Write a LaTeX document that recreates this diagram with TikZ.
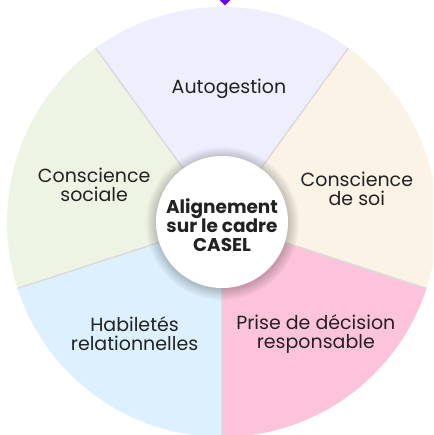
\documentclass[tikz,border=0pt]{standalone}
\usepackage{fontspec}
\setmainfont{Poppins}
\usetikzlibrary{shapes.geometric,fadings}

\definecolor{autog}{HTML}{EEEEFD}
\definecolor{soi}{HTML}{FBF3E6}
\definecolor{decision}{HTML}{FDC3DA}
\definecolor{relation}{HTML}{DCF1FD}
\definecolor{sociale}{HTML}{EEF4E4}
\definecolor{ink}{HTML}{222222}
\definecolor{mark}{HTML}{6B00F5}

\tikzset{
  lbl/.style={align=center, text=ink, font=\fontsize{19}{19}\selectfont},
  hubtext/.style={align=center, inner sep=0pt, text=ink,
    font=\bfseries\fontsize{18.5}{18.5}\selectfont}
}

\begin{document}
\begin{tikzpicture}[x=1pt,y=1pt]
   \useasboundingbox (-222,-213) rectangle (211,222);
   \clip (-222,-213) rectangle (211,222);

   % the five sectors of the wheel
   \fill[autog] (0,0) -- (54:215) arc[start angle=54, end angle=126, radius=215] -- cycle;
   \fill[sociale] (0,0) -- (126:215) arc[start angle=126, end angle=198, radius=215] -- cycle;
   \fill[relation] (0,0) -- (198:215) arc[start angle=198, end angle=270, radius=215] -- cycle;
   \fill[decision] (0,0) -- (270:215) arc[start angle=270, end angle=342, radius=215] -- cycle;
   \fill[soi] (0,0) -- (-18:215) arc[start angle=-18, end angle=54, radius=215] -- cycle;

   % separators
   \foreach \a in {54,126,198,270,342}
     \draw[black!14, line width=1.5pt] (0,0) -- (\a:215);

   % hub disc with a soft shadow
   \fill[black, opacity=.22, path fading=circle with fuzzy edge 15 percent] (0,-1) circle (77);
   \fill[white] (0,0) circle (66);

   \node[hubtext] (hub) at (0,-3) {Alignement\\sur le cadre\\CASEL};

   \node[lbl] (autogestion) at (87:133) {Autogestion};
   \node[lbl] (soi) at (14:139) {Conscience\\de soi};
   \node[lbl] (decision) at (-50:146) {Prise de décision\\responsable};
   \node[lbl] (relation) at (232:142) {Habiletés\\relationnelles};
   \node[lbl] (sociale) at (164:133) {Conscience\\sociale};

   \node[diamond, fill=mark, minimum size=13pt, inner sep=0pt] (top) at (3,223) {};
\end{tikzpicture}
\end{document}
